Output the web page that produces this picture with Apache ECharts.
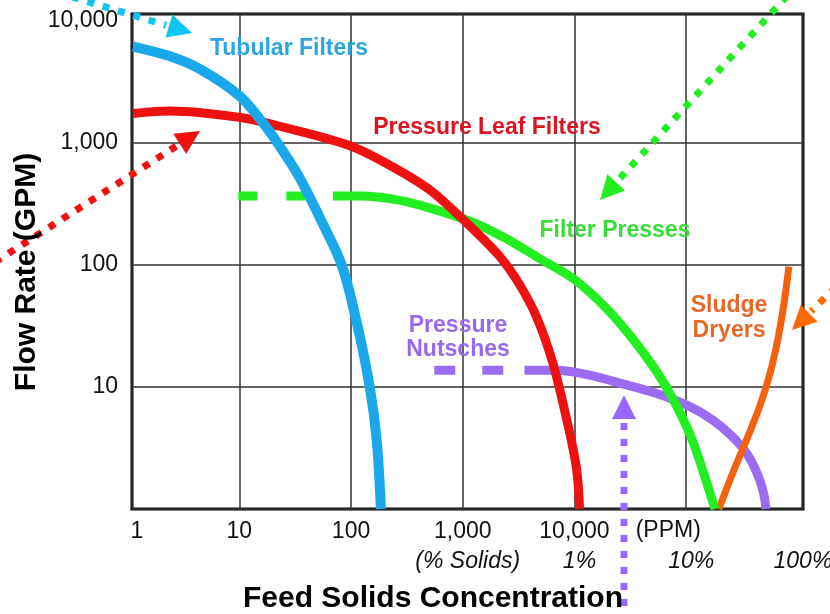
<!DOCTYPE html>
<html><head><meta charset="utf-8">
<script src="https://cdn.jsdelivr.net/npm/echarts@6/dist/echarts.min.js"></script>
<style>html,body{margin:0;padding:0;background:#fff}#c{width:830px;height:614px}</style>
</head><body><div id="c"></div>
<script>
// ---- data (feed solids in PPM, flow rate in GPM) ----
const tubularX = [1.12, 2.4, 4.45, 10, 15.9, 22.0, 34.3, 53.8, 82.4, 112, 147, 170, 185];
const tubularY = [6170, 5130, 4030, 2440, 1500, 1000, 527, 233, 100, 34.3, 10, 3.6, 1];
const leafX = [1.12, 2.4, 10, 22.9, 99, 252, 500, 759, 1222, 2130, 3220, 4570, 6350, 8470, 10400, 11100];
const leafY = [1746, 1828, 1622, 1371, 944, 615, 417, 300, 199, 118, 69.2, 37.7, 16.1, 5.52, 2.18, 1];
const pressDashX = [9.8, 68.7];
const pressDashY = [367, 367];
const pressX = [68.7, 124, 252, 500, 1222, 2460, 4860, 10000, 19400, 33200, 54600, 75900, 108000, 141000, 181000];
const pressY = [367, 367, 343, 294, 224, 164, 113, 76, 43.9, 24.8, 13.3, 8.0, 4.10, 2.06, 1];
const nutDashX = [556, 3570];
const nutDashY = [13.7, 13.7];
const nutX = [3570, 6900, 13600, 27000, 54600, 108000, 170000, 246000, 336000, 421000, 486000, 518000];
const nutY = [13.7, 13.7, 12.5, 10.6, 8.83, 6.9, 5.42, 4.10, 2.99, 2.06, 1.42, 1];
const dryerX = [196000, 262000, 349000, 457000, 561000, 662000, 750000, 830000];
const dryerY = [1, 1.99, 3.74, 7.03, 12.8, 24.8, 48.2, 97];

// ---- tick labels ----
const xTickValues = [10, 100, 1000, 10000];
const xTickLabels = ['10', '100', '1,000', '10,000'];
const xFirstLabel = '1';
const yTickValues = [10, 100, 1000, 10000];
const yTickLabels = ['10', '100', '1,000', '10,000'];
const pctValues = [1000, 10000, 100000, 1000000];
const pctLabels = ['(% Solids)', '1%', '10%', '100%'];
const ppmValue = 100000;
const ppmLabel = '(PPM)';

const xMin = 1.095, xMax = 1.11e6, yMin = 1, yMax = 11400;

const FONT = "'Liberation Sans', Arial, Helvetica, sans-serif";
const GRID = '#333';
// split line colours cycle per tick: x ticks = min,10,100,1e3,1e4,1e5,1e6,max ; y ticks = 1,10,100,1e3,1e4,max
const xSplitColors = [GRID, GRID, GRID, GRID, GRID, GRID, 'rgba(0,0,0,0)', GRID];
const ySplitColors = [GRID, GRID, GRID, GRID, 'rgba(0,0,0,0)', GRID];

function lookup(v, vals, labels) {
  for (let i = 0; i < vals.length; i++) {
    if (Math.abs(Math.log10(v) - Math.log10(vals[i])) < 0.02) return labels[i];
  }
  return '';
}
function pairs(xs, ys) { return xs.map((x, i) => [x, ys[i]]); }
function line(name, xs, ys, color, width, dash, z) {
  return {
    name, type: 'line', data: pairs(xs, ys), showSymbol: false, silent: true,
    smooth: dash ? false : 0.35, z: z,
    lineStyle: { color, width, type: dash || 'solid', cap: 'butt', join: 'round' }
  };
}

const chart = echarts.init(document.getElementById('c'));
chart.setOption({
  animation: false,
  backgroundColor: '#fff',
  grid: { left: 132, top: 14, width: 671, height: 495, show: true, borderColor: '#000', borderWidth: 3 },
  xAxis: {
    type: 'log', logBase: 10, min: xMin, max: xMax,
    axisLine: { show: false }, axisTick: { show: false },
    splitLine: { show: true, lineStyle: { color: xSplitColors, width: 1.5 } },
    axisLabel: {
      fontFamily: FONT, fontSize: 23, color: '#111', margin: 11, showMaxLabel: false,
      formatter: v => (v < 1.5 ? '{f|' + xFirstLabel + '}' : lookup(v, xTickValues, xTickLabels)),
      rich: { f: { fontFamily: FONT, fontSize: 23, color: '#111', padding: [0, 0, 0, 10] } }
    }
  },
  yAxis: {
    type: 'log', logBase: 10, min: yMin, max: yMax,
    axisLine: { show: false }, axisTick: { show: false },
    splitLine: { show: true, lineStyle: { color: ySplitColors, width: 1.5 } },
    axisLabel: {
      fontFamily: FONT, fontSize: 23, color: '#111', margin: 14, showMaxLabel: false, showMinLabel: false,
      formatter: v => lookup(v, yTickValues, yTickLabels)
    }
  },
  series: [
    line('Pressure Nutsches dashed', nutDashX, nutDashY, '#9B6CF2', 9, [21, 27], 2),
    line('Pressure Nutsches', nutX, nutY, '#9B6CF2', 9, null, 2),
    line('Sludge Dryers', dryerX, dryerY, '#F5620F', 7, null, 3),
    line('Filter Presses dashed', pressDashX, pressDashY, '#22EE22', 9, [19, 29], 4),
    line('Filter Presses', pressX, pressY, '#22EE22', 9, null, 4),
    line('Pressure Leaf Filters', leafX, leafY, '#EE1111', 9, null, 5),
    line('Tubular Filters', tubularX, tubularY, '#1AA8EA', 10, null, 6)
  ]
});

function arrow(x1, y1, x2, y2, color) {
  const dx = x2 - x1, dy = y2 - y1, L = Math.hypot(dx, dy), ux = dx / L, uy = dy / L;
  const head = 24, half = 12;
  const bx = x2 - ux * head, by = y2 - uy * head;
  return [
    { type: 'line', silent: true, z: 50, shape: { x1, y1, x2: bx - ux * 3, y2: by - uy * 3 },
      style: { stroke: color, lineWidth: 7, lineDash: [7, 9] } },
    { type: 'polygon', silent: true, z: 50,
      shape: { points: [[x2, y2], [bx - uy * half, by + ux * half], [bx + uy * half, by - ux * half]] },
      style: { fill: color } }
  ];
}
function txt(text, x, y, color, size, weight, extra) {
  return Object.assign({ type: 'text', x, y, silent: true, z: 60,
    style: { text, fill: color, fontFamily: FONT, fontSize: size, fontWeight: weight || 'normal',
             align: 'center', verticalAlign: 'middle', lineHeight: size + 2 } }, extra || {});
}

const px = v => chart.convertToPixel({ xAxisIndex: 0 }, v);
const graphics = [];
pctValues.forEach((v, i) => {
  const t = txt(pctLabels[i], px(v) + 5, 562, '#111', 23, 'normal');
  t.style.fontStyle = 'italic';
  graphics.push(t);
});
graphics.push(txt(ppmLabel, px(ppmValue) - 18, 531, '#111', 23, 'normal'));
graphics.push(txt('Feed Solids Concentration', 433, 599, '#000', 30, 'bold'));
graphics.push(txt('Flow Rate (GPM)', 27, 272, '#000', 30, 'bold', { rotation: Math.PI / 2 }));

graphics.push(txt('Tubular Filters', 289, 49, '#2BA6E0', 23, 'bold'));
graphics.push(txt('Pressure Leaf Filters', 487, 128, '#DC1420', 23, 'bold'));
graphics.push(txt('Filter Presses', 615, 231, '#3ADC3A', 23, 'bold'));
const nut = txt('Pressure\nNutsches', 458, 338, '#9A68EE', 23, 'bold'); nut.style.lineHeight = 24; graphics.push(nut);
const sl = txt('Sludge\nDryers', 729, 318, '#E8672A', 23, 'bold'); sl.style.lineHeight = 25; graphics.push(sl);

graphics.push(...arrow(72, -3, 192, 33, '#12C4F5'));
graphics.push(...arrow(-5, 262, 200, 131, '#F01010'));
graphics.push(...arrow(787, -4, 600, 200, '#22EE22'));
graphics.push(...arrow(836, 287, 792, 330, '#FF6A00'));
graphics.push(...arrow(624, 622, 624, 395, '#9966FF'));

chart.setOption({ graphic: graphics });
</script>
</body></html>
